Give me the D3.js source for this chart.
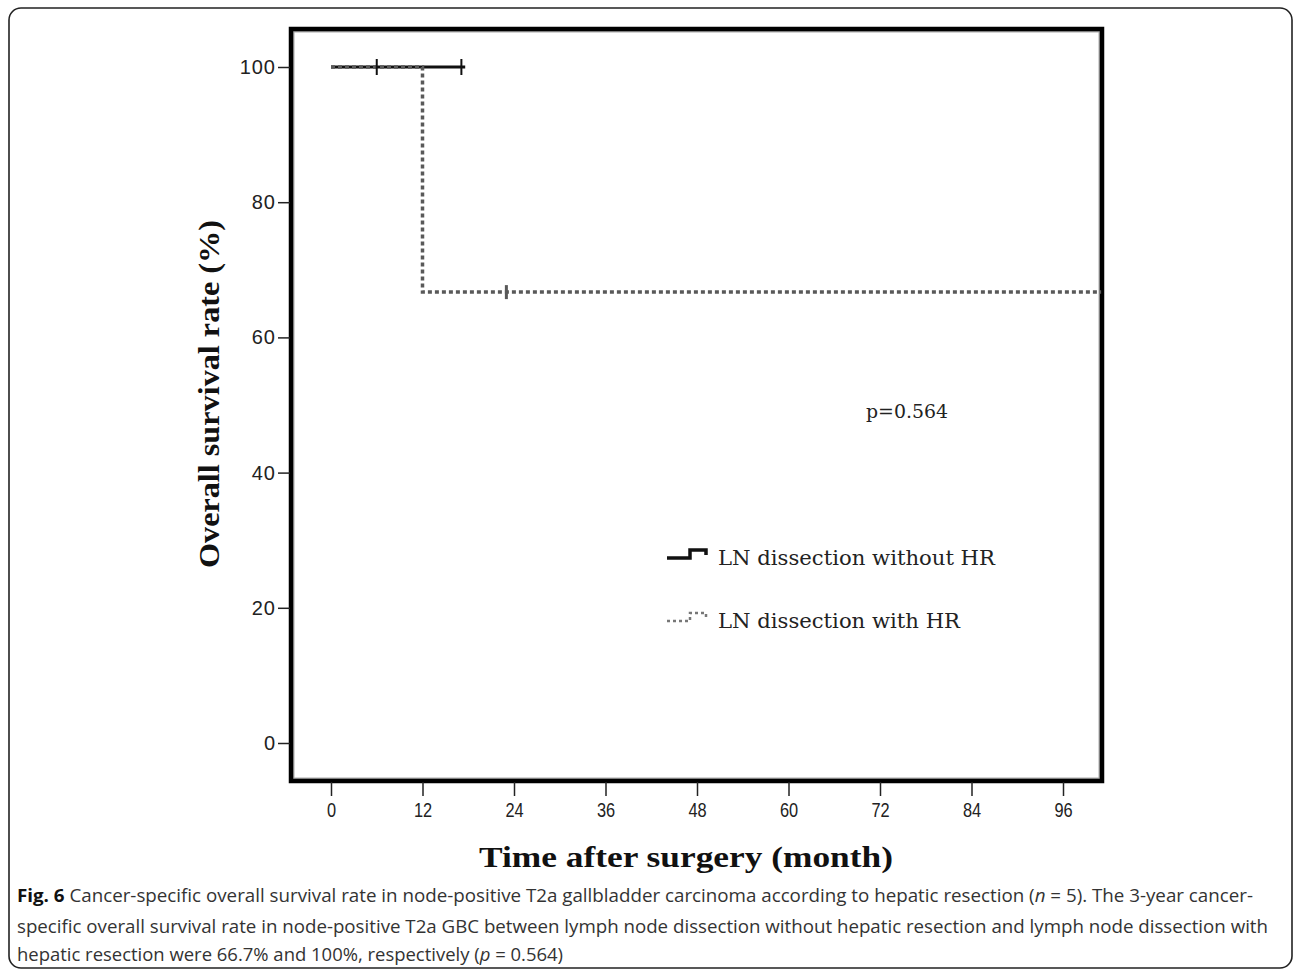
<!DOCTYPE html>
<html>
<head>
    <meta charset="utf-8">
    <script src="https://d3js.org/d3.v7.min.js"></script>
    <style>
        body { margin: 0; background: #fff; }
        svg { display: block; }
        .serif-title { font-family: 'Liberation Serif', 'DejaVu Serif Condensed', 'DejaVu Serif', serif; font-weight: bold; }
        .slab { font-family: 'DejaVu Serif', serif; }
        .sans { font-family: 'Liberation Sans', Arial, sans-serif; }
        .caption { font-family: 'Open Sans', sans-serif; }
    </style>
</head>
<body>
    <svg id="svg" width="1295" height="970"></svg>

    <script>
        // **** Data ****
        const xTicks = [0, 12, 24, 36, 48, 60, 72, 84, 96]
        const yTicks = [0, 20, 40, 60, 80, 100]

        // LN dissection without HR (solid black)
        const noHrTimes = [0, 17.6]
        const noHrSurv = [100, 100]
        const noHrCensorTimes = [6, 17.1]
        const noHrCensorSurv = [100, 100]

        // LN dissection with HR (dotted grey)
        const hrTimes = [0, 12, 101]
        const hrSurv = [100, 66.7, 66.7]
        const hrCensorTimes = [23]
        const hrCensorSurv = [66.7]

        const legendLabels = ['LN dissection without HR', 'LN dissection with HR']
        const pText = 'p=0.564'

        const captionLines = [
            [['b', 'Fig. 6'], ['n', ' Cancer-specific overall survival rate in node-positive T2a gallbladder carcinoma according to hepatic resection ('], ['i', 'n'], ['n', ' = 5). The 3-year cancer-']],
            [['n', 'specific overall survival rate in node-positive T2a GBC between lymph node dissection without hepatic resection and lymph node dissection with']],
            [['n', 'hepatic resection were 66.7% and 100%, respectively ('], ['i', 'p'], ['n', ' = 0.564)']]
        ]
        const captionWidths = [1236, 1251, 546]

        // **** Scales ****
        const svg = d3.select('#svg')
        const x = d3.scaleLinear().domain([0, 96]).range([331, 1063])
        const y = d3.scaleLinear().domain([0, 100]).range([743, 67])

        const frame = { left: 291, top: 29, right: 1102, bottom: 781 }

        // outer rounded box
        svg.append('rect')
            .attr('x', 9).attr('y', 8)
            .attr('width', 1283).attr('height', 960)
            .attr('rx', 12)
            .attr('fill', 'none')
            .attr('stroke', '#222')
            .attr('stroke-width', 1.6)

        // plot frame
        svg.append('rect')
            .attr('x', frame.left + 2.5).attr('y', frame.top + 2.5)
            .attr('width', frame.right - frame.left - 5).attr('height', frame.bottom - frame.top - 5)
            .attr('fill', 'none').attr('stroke', '#aaa').attr('stroke-width', 2)
        svg.append('rect')
            .attr('x', frame.left).attr('y', frame.top)
            .attr('width', frame.right - frame.left).attr('height', frame.bottom - frame.top)
            .attr('fill', 'none').attr('stroke', '#000').attr('stroke-width', 4.5)

        // **** Axes ****
        const yAxis = d3.axisLeft(y).tickValues(yTicks).tickSize(12).tickPadding(2)
        const gy = svg.append('g').attr('transform', `translate(${frame.left - 1},0)`).call(yAxis)
        gy.select('.domain').remove()
        gy.selectAll('line').attr('stroke', '#222').attr('stroke-width', 1.5)
        gy.selectAll('text')
            .attr('class', 'sans')
            .attr('font-family', null)
            .attr('font-size', 20).attr('fill', '#222')
            .attr('letter-spacing', 1)

        const xAxis = d3.axisBottom(x).tickValues(xTicks).tickSize(14).tickPadding(6)
        const gx = svg.append('g').attr('transform', `translate(0,${frame.bottom + 1})`).call(xAxis)
        gx.select('.domain').remove()
        gx.selectAll('line').attr('stroke', '#222').attr('stroke-width', 1.5)
        gx.selectAll('text')
            .attr('class', 'sans')
            .attr('font-family', null)
            .attr('font-size', 21).attr('fill', '#222')
            .attr('transform', 'scale(0.78,1)')

        // axis titles
        svg.append('text')
            .attr('class', 'serif-title')
            .attr('x', 686).attr('y', 867)
            .attr('text-anchor', 'middle')
            .attr('font-size', 29)
            .attr('textLength', 414).attr('lengthAdjust', 'spacingAndGlyphs')
            .attr('fill', '#111')
            .text('Time after surgery (month)')

        svg.append('text')
            .attr('class', 'serif-title')
            .attr('transform', 'translate(219,394) rotate(-90)')
            .attr('text-anchor', 'middle')
            .attr('font-size', 29)
            .attr('textLength', 348).attr('lengthAdjust', 'spacingAndGlyphs')
            .attr('fill', '#111')
            .text('Overall survival rate (%)')

        // **** Survival curves ****
        const stepLine = d3.line().x(d => x(d[0])).y(d => y(d[1])).curve(d3.curveStepAfter)

        svg.append('path')
            .datum(d3.zip(noHrTimes, noHrSurv))
            .attr('d', stepLine)
            .attr('fill', 'none').attr('stroke', '#111').attr('stroke-width', 3)

        svg.append('path')
            .datum(d3.zip(hrTimes, hrSurv))
            .attr('d', stepLine)
            .attr('fill', 'none').attr('stroke', '#595959').attr('stroke-width', 3.5)
            .attr('stroke-dasharray', '4,3')

        // censor marks
        svg.selectAll('.censorA')
            .data(d3.zip(noHrCensorTimes, noHrCensorSurv))
            .enter().append('line')
            .attr('x1', d => x(d[0])).attr('x2', d => x(d[0]))
            .attr('y1', d => y(d[1]) - 8).attr('y2', d => y(d[1]) + 8)
            .attr('stroke', '#111').attr('stroke-width', 2)

        svg.selectAll('.censorB')
            .data(d3.zip(hrCensorTimes, hrCensorSurv))
            .enter().append('line')
            .attr('x1', d => x(d[0])).attr('x2', d => x(d[0]))
            .attr('y1', d => y(d[1]) - 7).attr('y2', d => y(d[1]) + 7)
            .attr('stroke', '#595959').attr('stroke-width', 3)

        // p value
        svg.append('text')
            .attr('class', 'slab')
            .attr('x', 866).attr('y', 418)
            .attr('font-size', 19).attr('fill', '#222')
            .attr('textLength', 82).attr('lengthAdjust', 'spacingAndGlyphs')
            .text(pText)

        // **** Legend ****
        const legendY = [558, 621]
        const legend = svg.selectAll('.legend')
            .data(legendLabels)
            .enter().append('g')
            .attr('transform', (d, i) => `translate(667,${legendY[i]})`)

        legend.append('path')
            .attr('d', 'M0,0 H23 V-8 H39 V-3')
            .attr('fill', 'none')
            .attr('stroke', (d, i) => i === 0 ? '#111' : '#777')
            .attr('stroke-width', (d, i) => i === 0 ? 3.5 : 2.5)
            .attr('stroke-dasharray', (d, i) => i === 0 ? null : '3,3')

        legend.append('text')
            .attr('class', 'slab')
            .attr('x', 51).attr('y', 7)
            .attr('font-size', 20).attr('fill', '#222')
            .attr('textLength', (d, i) => i === 0 ? 277 : 242)
            .attr('lengthAdjust', 'spacingAndGlyphs')
            .text(d => d)

        // **** Caption ****
        const captionY = [902, 933, 961]
        captionLines.forEach((parts, i) => {
            const t = svg.append('text')
                .attr('class', 'caption')
                .attr('x', 17).attr('y', captionY[i])
                .attr('font-size', 18).attr('fill', '#333')
                .attr('textLength', captionWidths[i])
                .attr('lengthAdjust', 'spacingAndGlyphs')
            parts.forEach(([style, str]) => {
                t.append('tspan')
                    .attr('font-weight', style === 'b' ? 'bold' : null)
                    .attr('font-style', style === 'i' ? 'italic' : null)
                    .attr('fill', style === 'b' ? '#111' : null)
                    .text(str)
            })
        })
    </script>
</body>
</html>
